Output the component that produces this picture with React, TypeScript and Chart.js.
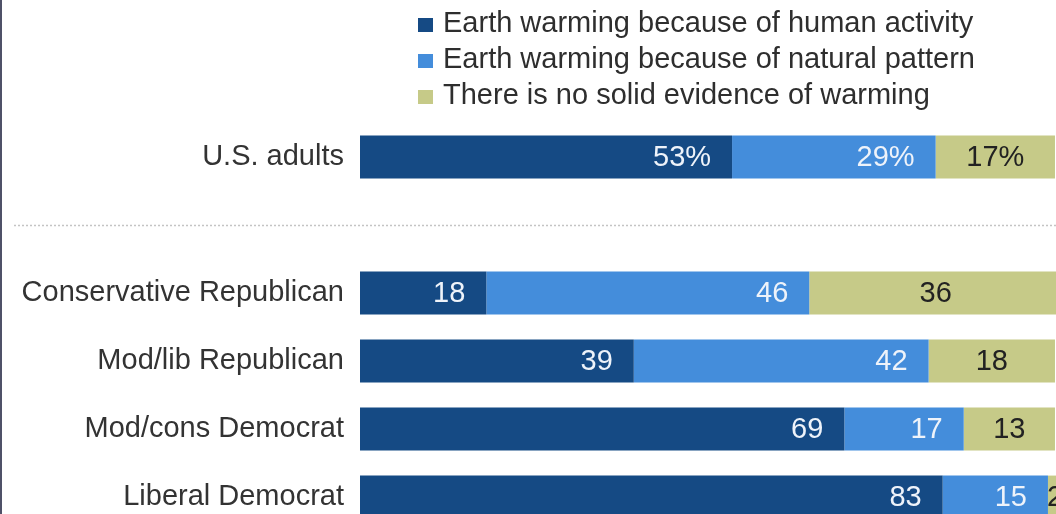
import React, { useEffect, useRef } from "react";
import { Chart, registerables } from "chart.js";

Chart.register(...registerables);

const categories = [
  "U.S. adults",
  "",
  "Conservative Republican",
  "Mod/lib Republican",
  "Mod/cons Democrat",
  "Liberal Democrat",
];
const seriesNames = [
  "Earth warming because of human activity",
  "Earth warming because of natural pattern",
  "There is no solid evidence of warming",
];
const humanActivity = [53, null, 18, 39, 69, 83];
const naturalPattern = [29, null, 46, 42, 17, 15];
const noEvidence = [17, null, 36, 18, 13, 2];

const COLORS = ["#154a84", "#448ddb", "#c6ca88"];
const FONT = "'Liberation Sans', Arial, sans-serif";

const decorPlugin = {
  id: "decor",
  beforeDatasetsDraw(chart: any) {
    const ctx = chart.ctx;
    const y = chart.scales.y.getPixelForValue(1);
    ctx.save();
    ctx.strokeStyle = "#c4c4c4";
    ctx.lineWidth = 1.5;
    ctx.setLineDash([2, 2]);
    ctx.beginPath();
    ctx.moveTo(14, Math.round(y) + 0.5);
    ctx.lineTo(chart.width, Math.round(y) + 0.5);
    ctx.stroke();
    ctx.restore();
  },
  afterDraw(chart: any) {
    const ctx = chart.ctx;
    ctx.save();
    // left frame line
    ctx.fillStyle = "#4f5168";
    ctx.fillRect(0, 0, 2, chart.height);
    // legend
    ctx.font = `29px ${FONT}`;
    ctx.textBaseline = "alphabetic";
    ctx.textAlign = "left";
    chart.data.datasets.forEach((ds: any, i: number) => {
      const base = 32 + 36 * i;
      ctx.fillStyle = ds.backgroundColor;
      ctx.fillRect(418, base - 14, 15, 14);
      ctx.fillStyle = "#2e2e2e";
      ctx.fillText(ds.label, 443, base);
    });
    // value labels
    ctx.font = `29px ${FONT}`;
    ctx.textBaseline = "middle";
    chart.data.datasets.forEach((ds: any, di: number) => {
      const meta = chart.getDatasetMeta(di);
      meta.data.forEach((el: any, idx: number) => {
        const v = ds.data[idx];
        if (v === null || v === undefined) return;
        const { x, base, y } = el.getProps(["x", "base", "y"], true);
        const txt = idx === 0 ? `${v}%` : `${v}`;
        if (di < 2) {
          ctx.fillStyle = "#eef3fa";
          ctx.textAlign = "right";
          ctx.fillText(txt, x - 21, y + 1);
        } else {
          ctx.fillStyle = "#222222";
          ctx.textAlign = "center";
          ctx.fillText(txt, (x + base) / 2, y + 1);
        }
      });
    });
    ctx.restore();
  },
};

export default function App() {
  const ref = useRef<HTMLCanvasElement | null>(null);
  useEffect(() => {
    if (!ref.current) return;
    const chart = new Chart(ref.current, {
      type: "bar",
      data: {
        labels: categories,
        datasets: [humanActivity, naturalPattern, noEvidence].map((d, i) => ({
          label: seriesNames[i],
          data: d,
          backgroundColor: COLORS[i],
          borderWidth: 0,
          barPercentage: 0.63,
          categoryPercentage: 1,
        })),
      },
      options: {
        indexAxis: "y",
        responsive: false,
        animation: false,
        devicePixelRatio: 1,
        layout: { padding: { top: 123, left: 0, right: 0, bottom: 40 } },
        plugins: {
          legend: { display: false },
          tooltip: { enabled: false },
          title: { display: false },
        },
        scales: {
          x: {
            stacked: true,
            display: false,
            min: 0,
            max: 100,
          },
          y: {
            stacked: true,
            grid: { display: false },
            border: { display: false },
            ticks: {
              autoSkip: false,
              padding: 8,
              color: "#333333",
              font: { size: 29, family: FONT },
            },
            afterFit(scale: any) {
              scale.width = 360;
            },
          },
        },
      },
      plugins: [decorPlugin],
    } as any);
    return () => chart.destroy();
  }, []);
  return (
    <div
      style={{
        position: "absolute",
        left: 0,
        top: 0,
        width: 1056,
        height: 514,
        overflow: "hidden",
        background: "#ffffff",
      }}
    >
      <canvas
        ref={ref}
        width={1062}
        height={571}
        style={{ display: "block", width: 1062, height: 571 }}
      />
    </div>
  );
}
